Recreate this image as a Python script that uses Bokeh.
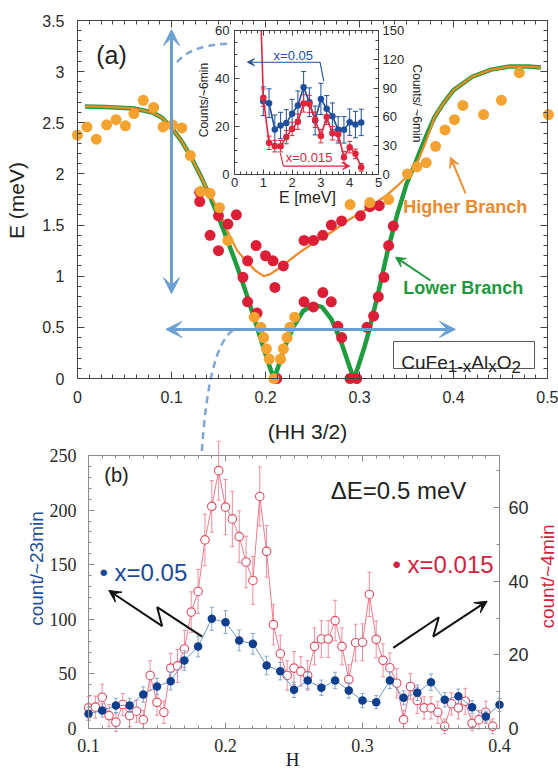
import math
from bokeh.plotting import figure
from bokeh.models import Range1d, LinearAxis, FixedTicker, Arrow, VeeHead, Label
from bokeh.embed import file_html
from bokeh.resources import INLINE

# ---------------- Panel (a): dispersion ----------------
a_orange_H = [0.000, 0.010, 0.020, 0.031, 0.041, 0.051, 0.060, 0.070, 0.081, 0.091, 0.101, 0.111,
              0.120, 0.131, 0.141, 0.151, 0.160, 0.188, 0.195, 0.198, 0.201, 0.204, 0.209, 0.216,
              0.219, 0.223, 0.226, 0.231, 0.290, 0.311, 0.331, 0.351, 0.361, 0.371, 0.381, 0.391,
              0.401, 0.410, 0.432, 0.451, 0.470, 0.501]
a_orange_E = [2.38, 2.46, 2.34, 2.48, 2.53, 2.47, 2.59, 2.72, 2.65, 2.46, 2.48, 2.45,
              2.18, 1.83, 1.81, 1.67, 1.35, 0.60, 0.50, 0.40, 0.29, 0.19, 0.00, 0.19,
              0.29, 0.40, 0.50, 0.60, 1.70, 1.72, 1.75, 2.00, 2.07, 2.11, 2.27, 2.43,
              2.53, 2.67, 2.58, 2.72, 2.99, 2.58]
a_red_H = [0.130, 0.130, 0.141, 0.150, 0.150, 0.160, 0.169, 0.176, 0.181, 0.181, 0.190, 0.191,
           0.200, 0.208, 0.210, 0.212, 0.219, 0.241, 0.241, 0.251, 0.251, 0.261, 0.261, 0.270,
           0.270, 0.277, 0.281, 0.281, 0.290, 0.297, 0.301, 0.308, 0.311, 0.315, 0.320, 0.321,
           0.326, 0.331, 0.336]
a_red_E = [1.82, 1.73, 1.40, 1.59, 1.25, 1.51, 1.60, 0.99, 1.15, 0.75, 1.30, 0.64,
           1.20, 1.15, 0.89, 0.00, 1.10, 0.75, 1.35, 1.35, 0.70, 1.40, 0.84, 0.75,
           1.50, 0.51, 0.40, 1.54, 0.00, 0.00, 1.59, 0.50, 1.68, 0.61, 0.80, 1.69,
           0.99, 1.30, 1.49]
lower_fit_H = [0.008, 0.03, 0.06, 0.08, 0.09, 0.10, 0.11, 0.12, 0.13, 0.14, 0.15, 0.16, 0.17,
               0.18, 0.19, 0.20, 0.205, 0.209, 0.213, 0.22, 0.23, 0.24, 0.25, 0.26, 0.27, 0.28,
               0.29, 0.294, 0.298, 0.305, 0.31, 0.32, 0.33, 0.34, 0.35, 0.36, 0.37, 0.38, 0.39,
               0.40, 0.42, 0.44, 0.46, 0.48, 0.493]
lower_fit_E = [2.66, 2.655, 2.64, 2.60, 2.55, 2.45, 2.33, 2.18, 2.00, 1.80, 1.58, 1.34, 1.09,
               0.82, 0.53, 0.24, 0.10, 0.00, 0.10, 0.30, 0.51, 0.66, 0.72, 0.70, 0.58, 0.37,
               0.10, 0.00, 0.10, 0.30, 0.46, 0.84, 1.25, 1.60, 1.90, 2.12, 2.35, 2.56, 2.70,
               2.82, 2.95, 3.02, 3.05, 3.05, 3.04]
higher_fit_H = [0.008, 0.03, 0.06, 0.08, 0.09, 0.10, 0.11, 0.12, 0.13, 0.14, 0.15, 0.16, 0.17,
                0.18, 0.19, 0.198, 0.205, 0.215, 0.23, 0.25, 0.27, 0.29, 0.31, 0.33, 0.34, 0.35,
                0.36, 0.37, 0.38, 0.39, 0.40, 0.42, 0.44, 0.46, 0.48, 0.493]
higher_fit_E = [2.66, 2.655, 2.64, 2.60, 2.55, 2.45, 2.33, 2.18, 2.00, 1.81, 1.65, 1.43, 1.25,
                1.14, 1.05, 1.00, 1.02, 1.08, 1.19, 1.32, 1.43, 1.56, 1.67, 1.80, 1.88, 1.97,
                2.08, 2.30, 2.56, 2.70, 2.82, 2.95, 3.02, 3.05, 3.05, 3.04]
a_xticks = [0, 0.1, 0.2, 0.3, 0.4, 0.5]
a_xlabels = ["0", "0.1", "0.2", "0.3", "0.4", "0.5"]
a_yticks = [0, 0.5, 1, 1.5, 2, 2.5, 3, 3.5]
a_ylabels = ["0", "0.5", "1", "1.5", "2", "2.5", "3", "3.5"]

# ---------------- Inset: energy scans ----------------
ins_E = [1.0, 1.2, 1.4, 1.6, 1.8, 2.0, 2.2, 2.4, 2.6, 2.8, 3.0, 3.2, 3.4, 3.6, 3.8, 4.0, 4.2, 4.4]
ins_blue = [30.5, 29.7, 18.8, 20.4, 21.5, 25.3, 28.8, 36.4, 30.1, 22.5, 31.5, 27.4, 24.3, 18.6,
            18.6, 21.8, 20.8, 21.7]
ins_blue_err = [6, 6, 6, 5.5, 5.5, 6, 6, 6.5, 6, 6, 6.5, 5.5, 5.5, 5.5, 5.5, 5.5, 5.5, 5.5]
ins_red = [80, 33, 29.5, 29.5, 39, 47.5, 55, 74, 73.5, 57, 40, 60, 43, 42, 18, 28.5, 21.5, 7.5]
ins_red_err = [9, 7, 6, 6, 7, 7, 8, 9, 9, 8, 7, 8, 7, 7, 6, 6, 5, 4]
ins_red_lead_E = [0.93]      # line leaves the top of the inset here
ins_red_lead = [150]
ins_xticks = [0, 1, 2, 3, 4, 5]
ins_yticks_left = [0, 20, 40, 60]
ins_yticks_right = [0, 30, 60, 90, 120, 150]

# ---------------- Panel (b): constant-energy scans ----------------
b_blue_H = [0.10, 0.11, 0.12, 0.13, 0.14, 0.15, 0.16, 0.17, 0.18, 0.19, 0.20, 0.21, 0.22, 0.23,
            0.24, 0.25, 0.26, 0.27, 0.28, 0.29, 0.30, 0.31, 0.32, 0.33, 0.34, 0.35, 0.36, 0.37,
            0.38, 0.39, 0.40]
b_blue = [13.4, 16.5, 21.1, 21.1, 31.1, 38.5, 43.3, 62.3, 75.1, 100.4, 97.4, 80.6, 77.5, 57.7,
          52.5, 35.4, 44.0, 37.3, 44.0, 34.8, 25.6, 24.1, 44.0, 28.1, 32.7, 42.4, 26.3, 29.6,
          19.5, 11.0, 21.7]
b_blue_err = [6, 6, 6.5, 6.5, 7, 7.5, 8, 9, 9.5, 10.5, 10.5, 9.5, 9.5, 8.5, 8, 7, 7.5, 7, 7.5,
              7, 6.5, 6, 7.5, 6.5, 7, 7.5, 6.5, 6.5, 6, 5, 6]
b_red_H = [0.100, 0.105, 0.110, 0.115, 0.120, 0.125, 0.130, 0.135, 0.140, 0.145, 0.150, 0.155,
           0.160, 0.165, 0.170, 0.175, 0.180, 0.185, 0.190, 0.195, 0.200, 0.205, 0.210, 0.215,
           0.220, 0.225, 0.230, 0.235, 0.240, 0.245, 0.250, 0.255, 0.260, 0.265, 0.270, 0.275,
           0.280, 0.285, 0.290, 0.295, 0.300, 0.305, 0.310, 0.315, 0.320, 0.325, 0.330, 0.335,
           0.340, 0.345, 0.350, 0.355, 0.360, 0.365, 0.370, 0.375, 0.380, 0.385, 0.390, 0.395]
b_red = [5.6, 5.8, 8.5, 3.5, 1.7, 6.5, 3.5, 4.7, 2.4, 14.4, 7.1, 4.4,
         16.4, 17.0, 21.6, 31.6, 37.2, 51.2, 60.3, 70.0, 60.1, 56.9, 52.1, 45.2,
         40.2, 63.0, 48.1, 28.2, 20.3, 14.4, 16.4, 15.5, 14.4, 22.3, 24.3, 24.3,
         29.3, 22.3, 13.3, 23.3, 23.4, 36.4, 24.2, 18.5, 16.5, 12.3, 2.4, 11.4,
         7.6, 5.6, 5.6, 4.4, 0.6, 6.7, 5.6, 7.4, 1.4, 2.4, 4.4, 0.6]
b_red_err = [3, 3, 3.5, 3, 2.5, 3, 3, 3, 2.5, 4, 3.5, 3,
             4, 4.5, 5, 5.5, 6, 7, 7, 8, 7.5, 7.5, 7, 7,
             6.5, 8, 7, 5.5, 5, 4, 4.5, 4, 4, 5, 5, 5,
             5.5, 5, 4, 5, 5, 6, 5, 4.5, 4, 4, 2.5, 3.5,
             3.5, 3, 3, 3, 2, 3, 3, 3.5, 2, 2.5, 3, 2]
b_xticks = [0.1, 0.2, 0.3, 0.4]
b_xlabels = ["0.1", "0.2", "0.3", "0.4"]
b_yticks_left = [0, 50, 100, 150, 200, 250]
b_yticks_right = [0, 20, 40, 60]

# ---------------- canvas and coordinate systems ----------------
W, H = 558, 769
M = 0  # canvas origin in page pixels


def xrange_from(v0, p0, v1, p1):
    k = (v1 - v0) / (p1 - p0)
    return Range1d(v0 + (M - p0) * k, v0 + (M + W - p0) * k)


def yrange_from(v0, p0, v1, p1):
    k = (v1 - v0) / (p1 - p0)
    return Range1d(v0 + (M + H - p0) * k, v0 + (M - p0) * k)


p = figure(width=W, height=H, title=None, toolbar_location=None, output_backend="svg",
           x_axis_location=None, y_axis_location=None, min_border=0,
           x_range=xrange_from(0, 77, 0.5, 547), y_range=yrange_from(0, 378, 3.5, 20))
p.outline_line_color = None
p.xgrid.grid_line_color = None
p.ygrid.grid_line_color = None
p.extra_x_ranges = {"ix": xrange_from(0, 234, 5, 378), "bx": xrange_from(0.1, 88, 0.4, 499)}
p.extra_y_ranges = {"iy": yrange_from(0, 174, 60, 30), "iyr": yrange_from(0, 174, 150, 30),
                    "by": yrange_from(0, 728, 250, 455), "byr": yrange_from(0, 728, 60, 507)}
b_right_top = 60 * (728 - 455) / (728 - 507)

SANS = "Liberation Sans"
SERIF = "Liberation Serif"
ORANGE = "#f4a331"
ORANGE_LINE = "#ee8a27"
RED = "#dc1f36"
GREEN = "#1f9c3d"
ARROW_BLUE = "#6a9fd4"
INS_BLUE = "#1d4f9c"
INS_RED = "#e0253d"
B_BLUE = "#0e3f8f"
B_BLUE_LINE = "#6e97cc"
B_RED = "#e54a61"
B_RED_LINE = "#f07a8b"

# ---------------- panel (a) glyphs ----------------
p.line(lower_fit_H, lower_fit_E, line_color=GREEN, line_width=4.5)
p.line(higher_fit_H, higher_fit_E, line_color=ORANGE_LINE, line_width=2.2)
p.scatter(a_red_H, a_red_E, size=11, fill_color=RED, line_color=None)
p.scatter(a_orange_H, a_orange_E, size=11, fill_color=ORANGE, line_color=None)

# dashed connectors
p.quadratic(x0=[0.106], y0=[3.092], x1=[0.159], y1=[3.272], cx=[0.120], cy=[3.255],
            line_color="#7fa7d6", line_width=2.5, line_dash="7 5")
p.quadratic(x0=[0.165], y0=[0.47], x1=[0.132], y1=[-0.753], cx=[0.139], cy=[0.293],
            line_color="#7fa7d6", line_width=2.5, line_dash="7 5")

# formula box
p.quad(left=[0.3362], right=[0.4862], bottom=[0.098], top=[0.362],
       fill_color="white", line_color="#555555", line_width=1)

# ---------------- inset glyphs ----------------
p.quad(left=[0], right=[5], bottom=[0], top=[60], x_range_name="ix", y_range_name="iy",
       fill_color="white", line_color="#444444", line_width=1)


def errbars(xs, ys, errs, xr, yr, color, cap, width=1):
    lo = [y - e for y, e in zip(ys, errs)]
    hi = [y + e for y, e in zip(ys, errs)]
    p.segment(x0=xs, y0=lo, x1=xs, y1=hi, x_range_name=xr, y_range_name=yr,
              line_color=color, line_width=width)
    p.scatter(xs + xs, lo + hi, marker="dash", size=cap, x_range_name=xr, y_range_name=yr,
              line_color=color, line_width=width)


errbars(ins_E, ins_blue, ins_blue_err, "ix", "iy", INS_BLUE, 5)
errbars(ins_E, ins_red, ins_red_err, "ix", "iyr", INS_RED, 5)
p.line(ins_E, ins_blue, x_range_name="ix", y_range_name="iy", line_color=INS_BLUE, line_width=1.6)
p.scatter(ins_E, ins_blue, x_range_name="ix", y_range_name="iy", size=6.5,
          fill_color=INS_BLUE, line_color=None)
p.line(ins_red_lead_E + ins_E, ins_red_lead + ins_red, x_range_name="ix", y_range_name="iyr",
       line_color=INS_RED, line_width=1.6)
p.scatter(ins_E, ins_red, x_range_name="ix", y_range_name="iyr", size=6.5,
          fill_color=INS_RED, line_color=None)
p.line([3.10, 2.97], [38.9, 46.8], x_range_name="ix", y_range_name="iy",
       line_color=INS_BLUE, line_width=1.1)
p.line([1.59, 1.70], [8.9, 3.5], x_range_name="ix", y_range_name="iy",
       line_color=INS_RED, line_width=1.1)

# ---------------- panel (b) glyphs ----------------
errbars(b_red_H, b_red, b_red_err, "bx", "byr", "#f08e9d", 4)
p.line(b_red_H, b_red, x_range_name="bx", y_range_name="byr", line_color=B_RED_LINE, line_width=1)
p.scatter(b_red_H, b_red, x_range_name="bx", y_range_name="byr", size=8.5,
          fill_color="white", line_color=B_RED, line_width=1.1)
errbars(b_blue_H, b_blue, b_blue_err, "bx", "by", "#86a5cf", 4)
p.line(b_blue_H, b_blue, x_range_name="bx", y_range_name="by", line_color=B_BLUE_LINE, line_width=1)
p.scatter(b_blue_H, b_blue, x_range_name="bx", y_range_name="by", size=8.5,
          fill_color=B_BLUE, line_color=None)

# lightning arrows
p.line([0.1830, 0.1501, 0.1538], [84.2, 111.1, 93.7], x_range_name="bx", y_range_name="by",
       line_color="#111111", line_width=2)
p.line([0.3224, 0.3557, 0.3516], [73.9, 101.9, 84.2], x_range_name="bx", y_range_name="by",
       line_color="#111111", line_width=2)


# ---------------- axes ----------------
def add_axis(side, xr, yr, loc, bounds, ticks, minor, labels=None, font=SANS, fsize="16px",
             color="#2a2a2a", lcolor="#444444", standoff=8, tin=7, min_in=4):
    if labels is None:
        overrides = {t: "" for t in ticks}
    else:
        overrides = dict(zip(ticks, labels))
    ax = LinearAxis(x_range_name=xr, y_range_name=yr, fixed_location=loc, bounds=bounds,
                    ticker=FixedTicker(ticks=ticks, minor_ticks=minor),
                    major_label_overrides=overrides,
                    axis_line_color=lcolor, major_tick_line_color=lcolor,
                    minor_tick_line_color=lcolor,
                    major_tick_in=tin, major_tick_out=0, minor_tick_in=min_in, minor_tick_out=0,
                    major_label_standoff=standoff, major_label_text_font=font,
                    major_label_text_font_size=fsize, major_label_text_color=color)
    p.add_layout(ax, side)


a_minor_y = [round(0.1 * i, 2) for i in range(36)]
a_minor_x = [round(0.0125 * i, 4) for i in range(41)]
add_axis("left", "default", "default", 0, (0, 3.5), a_yticks, a_minor_y, a_ylabels, standoff=13)
add_axis("right", "default", "default", 0.5, (0, 3.5), a_yticks, a_minor_y)
add_axis("below", "default", "default", 0, (0, 0.5), a_xticks, a_minor_x, a_xlabels, standoff=12)
add_axis("above", "default", "default", 3.5, (0, 0.5), a_xticks, a_minor_x)

ins_minor_x = [round(0.2 * i, 2) for i in range(26)]
ins_minor_y = list(range(0, 61, 5))
ins_minor_yr = list(range(0, 151, 10))
add_axis("left", "ix", "iy", 0, (0, 60), ins_yticks_left, ins_minor_y,
         [str(t) for t in ins_yticks_left], fsize="13px", standoff=5, tin=5, min_in=3)
add_axis("right", "ix", "iyr", 5, (0, 150), ins_yticks_right, ins_minor_yr,
         [str(t) for t in ins_yticks_right], fsize="13px", standoff=4, tin=5, min_in=3)
add_axis("below", "ix", "iy", 0, (0, 5), ins_xticks, ins_minor_x,
         [str(t) for t in ins_xticks], fsize="13px", standoff=3, tin=5, min_in=3)
add_axis("above", "ix", "iy", 60, (0, 5), ins_xticks, ins_minor_x, tin=5, min_in=3)

b_minor_x = [round(0.1 + 0.01 * i, 3) for i in range(31)]
b_minor_y = list(range(0, 251, 10))
b_minor_yr = [0, 10, 20, 30, 40, 50, 60, 70]
BGRAY = "#8c8c8c"
add_axis("left", "bx", "by", 0.1, (0, 250), b_yticks_left, b_minor_y,
         [str(t) for t in b_yticks_left], font=SERIF, fsize="18px", lcolor=BGRAY,
         standoff=12, tin=6, min_in=3)
add_axis("right", "bx", "byr", 0.4, (0, b_right_top), b_yticks_right, b_minor_yr,
         [str(t) for t in b_yticks_right], fsize="18px", lcolor=BGRAY, standoff=9, tin=6, min_in=3)
add_axis("below", "bx", "by", 0, (0.1, 0.4), b_xticks, b_minor_x, b_xlabels,
         font=SERIF, fsize="18px", lcolor=BGRAY, standoff=10, tin=6, min_in=3)
add_axis("above", "bx", "by", 250, (0.1, 0.4), b_xticks, b_minor_x, lcolor=BGRAY, tin=6, min_in=3)


# ---------------- annotations ----------------
def label(x, y, text, xr="default", yr="default", size="16px", color="#222222", font=SANS,
          align="center", baseline="middle", style="normal", angle=0.0, x_offset=0):
    p.add_layout(Label(x=x, y=y, text=text, x_range_name=xr, y_range_name=yr,
                       text_font=font, text_font_size=size, text_color=color,
                       text_align=align, text_baseline=baseline, text_font_style=style,
                       angle=angle, x_offset=x_offset))


def arrow(x0, y0, x1, y1, color, width, size, xr="default", yr="default", both=False):
    head = dict(size=size, fill_color=color, line_color=color)
    p.add_layout(Arrow(x_start=x0, y_start=y0, x_end=x1, y_end=y1,
                       start=VeeHead(**head) if both else None, end=VeeHead(**head),
                       line_color=color, line_width=width, x_range_name=xr, y_range_name=yr))


# axis titles
label(-0.0649, 1.740, "E (meV)", size="21px", angle=math.pi / 2)
label(0.2447, -0.518, "(HH 3/2)", size="21px")
label(-1.042, 31.0, "Counts/~6min", xr="ix", yr="iy", size="12px", angle=math.pi / 2)
label(6.32, 29.6, "Counts/ ~6min", xr="ix", yr="iy", size="12px", angle=-math.pi / 2)
label(2.535, -9.6, "E [meV]", xr="ix", yr="iy", size="16px")
label(0.0620, 146.5, "count/~23min", xr="bx", yr="by", size="19px", color="#1f4f9f",
      angle=math.pi / 2)
label(0.2489, -28.5, "H", xr="bx", yr="by", size="19px", font=SERIF)
label(0.4347, 139.2, "count/~4min", xr="bx", yr="by", size="19px", color="#d41e3c",
      angle=math.pi / 2)

label(0.0362, 3.167, "(a)", size="25px")
label(0.3465, 1.672, "Higher Branch", size="18px", color="#eb8a2c", align="left", style="bold")
label(0.3465, 0.880, "Lower Branch", size="18px", color="#1c9a3b", align="left", style="bold")
arrow(0.4128, 1.811, 0.3968, 2.163, "#ee9035", 2, 10)
arrow(0.3755, 0.958, 0.3383, 1.186, "#1c9a3b", 2, 10)
arrow(0.1, 0.83, 0.1, 3.41, ARROW_BLUE, 3, 16, both=True)
arrow(0.094, 0.48, 0.402, 0.48, ARROW_BLUE, 3, 16, both=True)

formula = [("CuFe", 0.0, 0.159, "19px"), ("1-x", 46.5, 0.117, "17px"), ("Al", 70.1, 0.159, "19px"),
           ("x", 87.0, 0.117, "17px"), ("O", 95.5, 0.159, "19px"), ("2", 110.3, 0.117, "17px")]
for txt, dx, yy, fs in formula:
    label(0.3444, yy, txt, size=fs, align="left", baseline="alphabetic", x_offset=dx,
          color="#222222")

label(2.04, 49.6, "x=0.05", xr="ix", yr="iy", size="13px", color=INS_BLUE)
label(2.59, 7.2, "x=0.015", xr="ix", yr="iy", size="13px", color=INS_RED)
arrow(2.97, 46.8, 0.45, 46.8, INS_BLUE, 1.1, 7, xr="ix", yr="iy")
arrow(1.70, 3.5, 4.0, 3.5, INS_RED, 1.1, 7, xr="ix", yr="iy")

label(0.1204, 231.7, "(b)", xr="bx", yr="by", size="20px")
label(0.3263, 217.9, "\u0394E=0.5 meV", xr="bx", yr="by", size="24px")
label(0.1080, 143.1, "\u2022 x=0.05", xr="bx", yr="by", size="24px", color="#1a4a9a", align="left")
label(0.3219, 150.2, "\u2022 x=0.015", xr="bx", yr="by", size="24px", color="#d81e3e", align="left")
arrow(0.1538, 93.7, 0.1148, 126.4, "#111111", 2, 12, xr="bx", yr="by")
arrow(0.3516, 84.2, 0.3910, 116.6, "#111111", 2, 12, xr="bx", yr="by")

open("out.html", "w").write(file_html(p, INLINE))
